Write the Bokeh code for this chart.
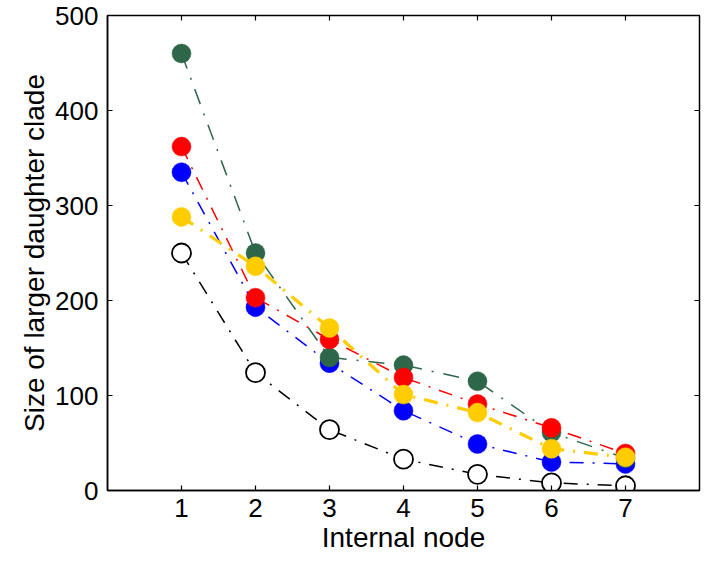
from bokeh.plotting import figure
from bokeh.models import FixedTicker, LinearAxis, Range1d
from bokeh.embed import file_html
from bokeh.resources import INLINE

nodes = [1, 2, 3, 4, 5, 6, 7]
black_vals = [250, 124, 64, 33, 17, 8, 5]
blue_vals = [335, 193, 134, 84, 49, 30, 28]
green_vals = [460, 250, 140, 132, 115, 61, 34]
red_vals = [362, 203, 159, 119, 91, 66, 39]
yellow_vals = [288, 236, 171, 101, 82, 44, 35]

x_ticks = [1, 2, 3, 4, 5, 6, 7]
y_ticks = [0, 100, 200, 300, 400, 500]

FONT = "Liberation Sans"

p = figure(width=701, height=556, x_range=Range1d(0, 8), y_range=Range1d(0, 500),
           output_backend="svg", toolbar_location=None,
           min_border_left=107, min_border_right=2, min_border_top=15, min_border_bottom=66)
p.xgrid.visible = False
p.ygrid.visible = False
p.outline_line_color = "black"
p.outline_line_width = 1.5

series = [
    (black_vals, "black", "white", 1.5, "14 9 2 9"),
    (blue_vals, "#0000FF", "#0000FF", 1.5, "14 9 2 9"),
    (green_vals, "#2E6649", "#2E6649", 1.5, "16 10 2 10"),
    (red_vals, "#FF0000", "#FF0000", 1.5, "14 9 2 9"),
    (yellow_vals, "#FFCC00", "#FFCC00", 3.2, "14 9 2 9"),
]

for vals, col, fill, lw, dash in series:
    p.line(nodes, vals, line_color=col, line_width=lw, line_dash=dash)
for vals, col, fill, lw, dash in series:
    p.scatter(nodes, vals, size=19, fill_color=fill, line_color=col,
              line_width=1.8 if fill == "white" else 0.5)

for ax in (p.xaxis[0], p.yaxis[0]):
    ax.major_tick_in = 5
    ax.major_tick_out = 0
    ax.minor_tick_line_color = None
    ax.major_label_text_font = FONT
    ax.major_label_text_font_size = "26px"
    ax.major_label_text_color = "black"
    ax.axis_label_text_font = FONT
    ax.axis_label_text_font_size = "28px"
    ax.axis_label_text_font_style = "normal"
    ax.axis_label_text_color = "black"
    ax.axis_line_color = "black"
    ax.axis_line_width = 1.5
    ax.major_tick_line_width = 1.2

p.xaxis[0].ticker = FixedTicker(ticks=x_ticks)
p.yaxis[0].ticker = FixedTicker(ticks=y_ticks)
p.xaxis[0].axis_label = "Internal node"
p.yaxis[0].axis_label = "Size of larger daughter clade"
p.xaxis[0].axis_label_standoff = 2
p.yaxis[0].axis_label_standoff = 2
p.xaxis[0].major_label_standoff = 8
p.yaxis[0].major_label_standoff = 9

top = LinearAxis(ticker=FixedTicker(ticks=x_ticks), major_label_text_font_size="0px",
                 major_tick_in=5, major_tick_out=0, minor_tick_line_color=None,
                 axis_line_color=None, major_tick_line_width=1.2)
right = LinearAxis(ticker=FixedTicker(ticks=y_ticks), major_label_text_font_size="0px",
                   major_tick_in=5, major_tick_out=0, minor_tick_line_color=None,
                   axis_line_color=None, major_tick_line_width=1.2)
p.add_layout(top, "above")
p.add_layout(right, "right")

open("out.html", "w").write(file_html(p, INLINE))
